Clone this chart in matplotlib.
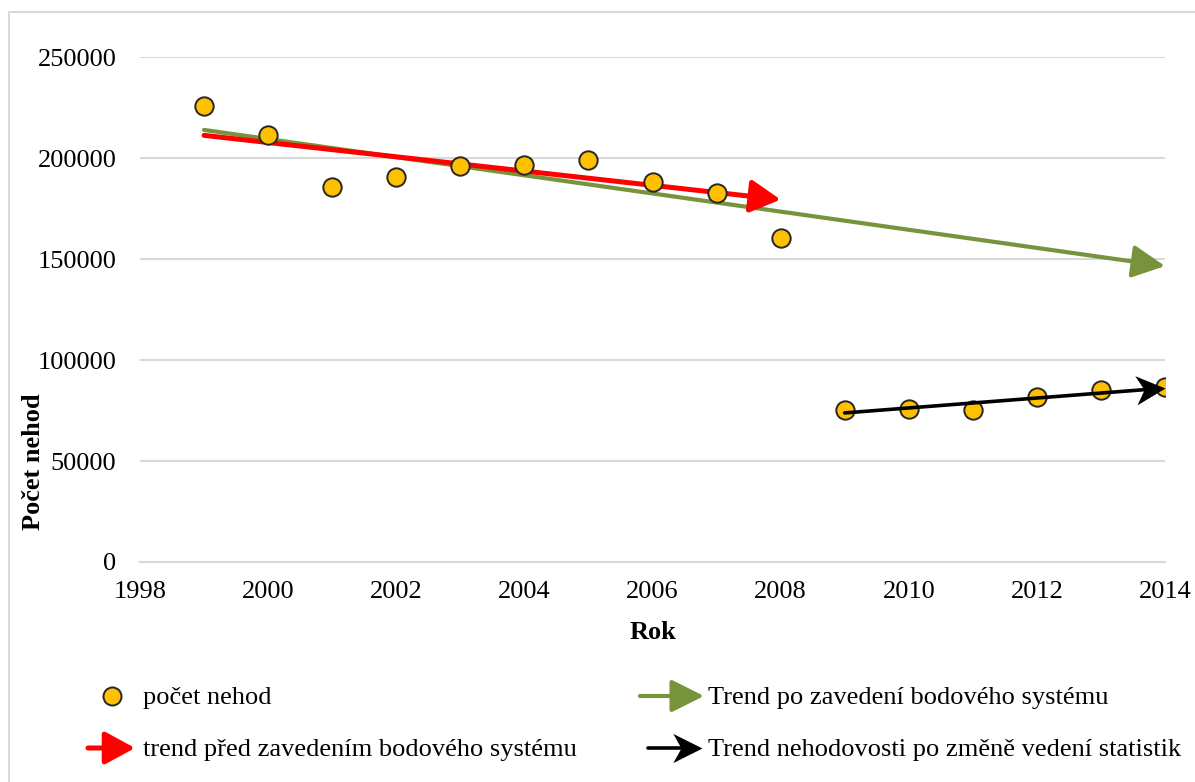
import matplotlib.pyplot as plt
import numpy as np
from matplotlib.patches import FancyArrowPatch
from matplotlib.lines import Line2D
from matplotlib.markers import MarkerStyle
from matplotlib.path import Path
from matplotlib.transforms import Affine2D

plt.rcParams["font.family"] = ["Liberation Serif", "DejaVu Serif"]

years = [1999, 2000, 2001, 2002, 2003, 2004, 2005, 2006, 2007, 2008,
         2009, 2010, 2011, 2012, 2013, 2014]
accidents = [225700, 211400, 185700, 190600, 196000, 196500, 199000, 188100,
             182700, 160400, 75300, 75700, 75200, 81700, 85100, 86600]

# trend lines: (start year, end year), (start value, end value)
trend_after_x = [1999, 2014]
trend_after_y = [213900, 146500]
trend_before_x = [1999, 2008]
trend_before_y = [211200, 179400]
trend_stat_x = [2009, 2014]
trend_stat_y = [73800, 86100]

legend_labels = ["počet nehod", "Trend po zavedení bodového systému",
                 "trend před zavedením bodového systému",
                 "Trend nehodovosti po změně vedení statistik"]

green = "#77933c"
red = "#ff0000"
gold = "#ffc000"
frame_grey = "#d9d9d9"
FS = 19

GREEN_STYLE = "-|>,head_length=1.0,head_width=0.5"
RED_STYLE = "-|>,head_length=0.92,head_width=0.5"

# notched (stealth) arrow head, tip at origin pointing to +x
stealth = Path([(0, 0), (-1, 0.5), (-0.72, 0), (-1, -0.5), (0, 0)],
               [Path.MOVETO, Path.LINETO, Path.LINETO, Path.LINETO, Path.CLOSEPOLY])


def stealth_marker(angle):
    return MarkerStyle(stealth, transform=Affine2D().rotate_deg(angle))


fig = plt.figure(figsize=(11.95, 7.82), dpi=100)
ax = fig.add_axes([140 / 1195, 1 - 562 / 782, 1025 / 1195, 505 / 782])

ax.set_xlim(1998, 2014)
ax.set_ylim(0, 250000)
ax.set_xticks(range(1998, 2015, 2))
ax.set_yticks(range(0, 250001, 50000))
ax.grid(axis="y", color=frame_grey, lw=1.5)
ax.set_axisbelow(True)
for side in ["top", "right", "left"]:
    ax.spines[side].set_visible(False)
ax.spines["bottom"].set_color(frame_grey)
ax.spines["bottom"].set_linewidth(1.5)
ax.tick_params(length=0, labelsize=FS)
ax.tick_params(axis="x", pad=14)
ax.tick_params(axis="y", pad=17)
ax.set_xlabel("Rok", fontsize=FS, fontweight="bold", va="center")
ax.xaxis.set_label_coords(0.5005, -0.139)
ax.set_ylabel("Počet nehod", fontsize=FS, fontweight="bold", va="center")
ax.yaxis.set_label_coords(-0.104, 0.198)

# trends
ax.add_patch(FancyArrowPatch((trend_after_x[0], trend_after_y[0]),
                             (trend_after_x[1], trend_after_y[1]),
                             arrowstyle=GREEN_STYLE, mutation_scale=20,
                             color=green, lw=3, zorder=3, shrinkA=0, shrinkB=0))
ax.add_patch(FancyArrowPatch((trend_before_x[0], trend_before_y[0]),
                             (trend_before_x[1], trend_before_y[1]),
                             arrowstyle=RED_STYLE, mutation_scale=20,
                             color=red, lw=3.6, zorder=4, shrinkA=0, shrinkB=0))

ax.scatter(years, accidents, s=175, color=gold, edgecolor="#262626",
           linewidth=1.4, zorder=5)

p0, p1 = ax.transData.transform([(trend_stat_x[0], trend_stat_y[0]),
                                 (trend_stat_x[1], trend_stat_y[1])])
stat_angle = np.degrees(np.arctan2(p1[1] - p0[1], p1[0] - p0[0]))
ax.add_patch(FancyArrowPatch((trend_stat_x[0], trend_stat_y[0]),
                             (trend_stat_x[1], trend_stat_y[1]),
                             arrowstyle="-", color="black", lw=2.6, zorder=6,
                             shrinkA=0, shrinkB=12))
ax.plot([trend_stat_x[1]], [trend_stat_y[1]], marker=stealth_marker(stat_angle),
        ms=42, color="black", mew=0, zorder=6, clip_on=False)

# legend drawn by hand
ly1 = 1 - 696 / 782
ly2 = 1 - 748 / 782
ty1 = 1 - 698 / 782
ty2 = 1 - 750 / 782
fig.add_artist(Line2D([112 / 1195], [ly1], marker="o", ms=13, color=gold,
                      markeredgecolor="#262626", mew=1.4, transform=fig.transFigure))
fig.text(143 / 1195, ty1, legend_labels[0], fontsize=FS, va="center")
fig.add_artist(FancyArrowPatch((640 / 1195, ly1), (704 / 1195, ly1),
                               transform=fig.transFigure, arrowstyle=GREEN_STYLE,
                               mutation_scale=20, color=green, lw=3,
                               shrinkA=0, shrinkB=0))
fig.text(708 / 1195, ty1, legend_labels[1], fontsize=FS, va="center")
fig.add_artist(FancyArrowPatch((88 / 1195, ly2), (135 / 1195, ly2),
                               transform=fig.transFigure, arrowstyle=RED_STYLE,
                               mutation_scale=20, color=red, lw=3.6,
                               shrinkA=0, shrinkB=0))
fig.text(143 / 1195, ty2, legend_labels[2], fontsize=FS, va="center")
fig.add_artist(FancyArrowPatch((648 / 1195, ly2), (702 / 1195, ly2),
                               transform=fig.transFigure, arrowstyle="-",
                               color="black", lw=2.6, shrinkA=0, shrinkB=12))
fig.add_artist(Line2D([702 / 1195], [ly2], marker=stealth_marker(0), ms=42,
                      color="black", mew=0, transform=fig.transFigure))
fig.text(708 / 1195, ty2, legend_labels[3], fontsize=FS, va="center")

# chart frame (only top and left edges fall inside the image)
fig.add_artist(Line2D([9 / 1195, 9 / 1195, 1.0], [0.0, 1 - 12 / 782, 1 - 12 / 782],
                      color=frame_grey, lw=1.5, transform=fig.transFigure))

fig.savefig("out.png", dpi=100)
